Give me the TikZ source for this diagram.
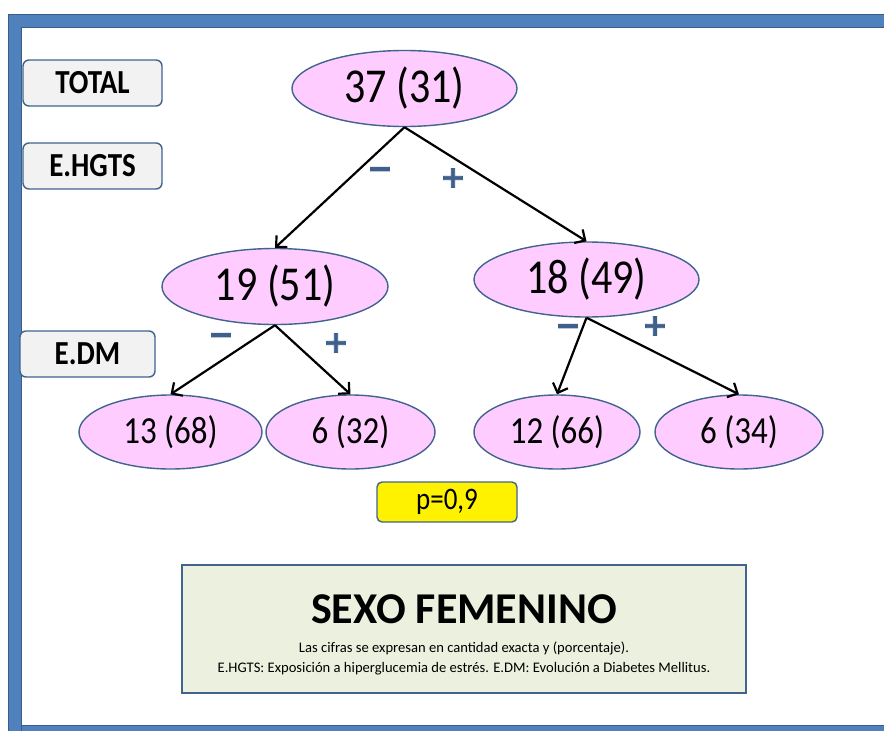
\documentclass[tikz,border=0pt]{standalone}
\usepackage{fontspec}
\setmainfont{Carlito}
\newfontfamily\signfont{DejaVu Sans Bold}[FakeBold=3]
\usetikzlibrary{shapes.geometric,arrows.meta}
\definecolor{frameblue}{HTML}{4F81BD}
\definecolor{framedark}{HTML}{385D8A}
\definecolor{edgeblue}{HTML}{41648F}
\definecolor{pinkfill}{HTML}{FFCCFF}
\definecolor{labelfill}{HTML}{F2F2F2}
\definecolor{notefill}{HTML}{EBF1DE}
\definecolor{signblue}{HTML}{3F5F8C}
% taller lettering used inside the shapes
\newcommand{\tallText}[1]{\scalebox{1}[1.16]{#1}}
\tikzset{
  bubble/.style={ellipse, draw=edgeblue, fill=pinkfill, line width=1.4pt, inner sep=0pt},
  bigbubble/.style={bubble, minimum width=226pt, minimum height=76pt, font=\fontsize{42}{48}\selectfont},
  leafbubble/.style={bubble, minimum height=74pt, font=\fontsize{33}{38}\selectfont},
  levelbox/.style={rectangle, rounded corners=6pt, draw=edgeblue, fill=labelfill, line width=1.4pt,
    minimum width=139pt, minimum height=46pt, inner sep=0pt, font=\fontsize{29}{32}\selectfont\bfseries},
  branch/.style={draw=black, line width=2.2pt, -{Straight Barb[length=8pt,width=16pt]}},
  sign/.style={text=signblue, font=\signfont\fontsize{30}{32}\selectfont, inner sep=0pt}
}
\begin{document}
\begin{tikzpicture}[x=1pt,y=-1pt]
\useasboundingbox (0,0) rectangle (884,731);
\fill[white] (0,0) rectangle (884,731);

% outer frame band
\begin{scope}
\clip (0,0) rectangle (884,731);
\draw[frameblue, line width=13pt] (14.5,760) -- (14.5,21) -- (920,21);
\draw[frameblue, line width=13pt] (8,731.5) -- (920,731.5);
\draw[framedark, line width=0.8pt] (8,760) -- (8,14.5) -- (920,14.5);
\draw[framedark, line width=0.8pt] (21,760) -- (21,27.5) -- (920,27.5);
\draw[framedark, line width=0.8pt] (21,725) -- (920,725);
\end{scope}

% level labels
\node[levelbox] (total) at (92.5,83) {\tallText{TOTAL}};
\node[levelbox] (ehgts) at (92.5,166) {\tallText{E.HGTS}};
\node[levelbox, minimum width=135pt] (edm) at (87.5,354) {\tallText{E.DM}};

% tree nodes
\node[bigbubble, minimum width=225pt] (root) at (404.5,88.5) {\tallText{37 (31)}};
\node[bigbubble] (neg) at (275,286.5) {\tallText{19 (51)}};
\node[bigbubble, minimum width=225pt, minimum height=75pt] (pos) at (586.5,279.5) {\tallText{18 (49)}};
\node[leafbubble, minimum width=183pt] (nn) at (170.5,432) {\tallText{13 (68)}};
\node[leafbubble, minimum width=169pt] (np) at (350.5,432) {\tallText{6 (32)}};
\node[leafbubble, minimum width=166pt] (pn) at (557,432) {\tallText{12 (66)}};
\node[leafbubble, minimum width=168pt] (pp) at (739,432) {\tallText{6 (34)}};

% branches
\draw[branch] (root.south) -- (neg.north);
\draw[branch] (root.south) -- (pos.north);
\draw[branch] (neg.south) -- (nn.north);
\draw[branch] (neg.south) -- (np.north);
\draw[branch] (pos.south) -- (pn.north);
\draw[branch] (pos.south) -- (pp.north);

% branch signs
\node[sign] (s1) at (380,173) {−};
\node[sign] (s2) at (453,178) {+};
\node[sign] (s3) at (221,339) {−};
\node[sign] (s4) at (336,343) {+};
\node[sign] (s5) at (568,330) {−};
\node[sign] (s6) at (655,326) {+};

% p value
\node[rectangle, rounded corners=5pt, draw=edgeblue, fill=yellow, line width=1.4pt,
  minimum width=140pt, minimum height=40pt, inner sep=0pt,
  font=\fontsize{27}{30}\selectfont] (pval) at (447,502) {\tallText{p=0,9}};

% caption box
\node[rectangle, draw=edgeblue, fill=notefill, line width=1.8pt,
  minimum width=564pt, minimum height=128pt, inner sep=0pt] (note) at (464,629) {};
\node[font=\fontsize{44}{48}\selectfont\bfseries] (title) at (464,609) {SEXO FEMENINO};
\node[font=\fontsize{14.6}{16}\selectfont] (line1) at (464,648) {Las cifras se expresan en cantidad exacta y (porcentaje).};
\node[font=\fontsize{14.6}{16}\selectfont] (line2) at (464,669) {E.HGTS: Exposición a hiperglucemia de estrés. E.DM: Evolución a Diabetes Mellitus.};
\end{tikzpicture}
\end{document}
